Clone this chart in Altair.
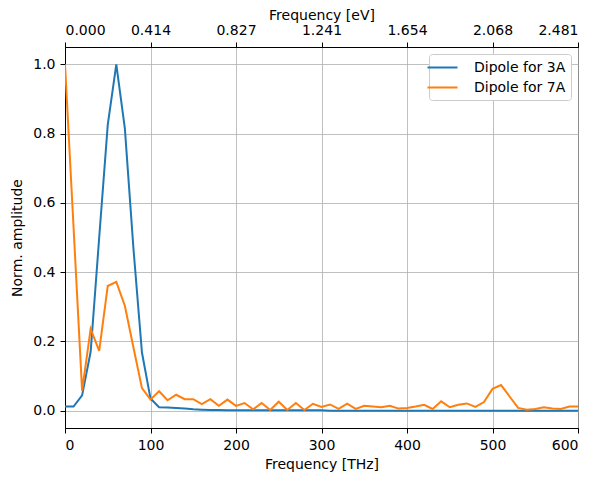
import altair as alt
import pandas as pd

thz = [0, 10, 20, 30, 40, 50, 60, 70, 80, 90,
       100, 110, 120, 130, 140, 150, 160, 170, 180, 190,
       200, 210, 220, 230, 240, 250, 260, 270, 280, 290,
       300, 310, 320, 330, 340, 350, 360, 370, 380, 390,
       400, 410, 420, 430, 440, 450, 460, 470, 480, 490,
       500, 510, 520, 530, 540, 550, 560, 570, 580, 590, 600]

dipole_3a = [0.012, 0.012, 0.044, 0.17, 0.5, 0.825, 1.0, 0.815, 0.47, 0.168,
             0.035, 0.01, 0.009, 0.008, 0.006, 0.004, 0.003, 0.002, 0.002, 0.001,
             0.001, 0.001, 0.001, 0.001, 0.001, 0.001, 0.001, 0.001, 0.001, 0.001,
             0.001, 0.0, 0.0, 0.0, 0.0, 0.0, 0.0, 0.0, 0.0, 0.0,
             0.0, 0.0, 0.0, 0.0, 0.0, 0.0, 0.0, 0.0, 0.0, 0.0,
             0.0, 0.0, 0.0, 0.0, 0.0, 0.0, 0.0, 0.0, 0.0, 0.0, 0.0]

dipole_7a = [1.0, 0.53, 0.058, 0.236, 0.173, 0.36, 0.372, 0.303, 0.183, 0.065,
             0.032, 0.056, 0.03, 0.046, 0.033, 0.033, 0.019, 0.033, 0.014, 0.032,
             0.014, 0.022, 0.004, 0.022, 0.002, 0.026, 0.002, 0.022, 0.002, 0.02,
             0.011, 0.018, 0.005, 0.02, 0.005, 0.014, 0.012, 0.01, 0.014, 0.006,
             0.008, 0.012, 0.017, 0.005, 0.027, 0.01, 0.017, 0.021, 0.011, 0.025,
             0.063, 0.074, 0.041, 0.008, 0.003, 0.005, 0.01, 0.006, 0.005, 0.012, 0.012]

series_names = ["Dipole for 3A", "Dipole for 7A"]
series_colors = ["#1f77b4", "#ff7f0e"]

x_ticks = [0, 100, 200, 300, 400, 500, 600]
y_ticks = [0.0, 0.2, 0.4, 0.6, 0.8, 1.0]

df = pd.DataFrame({
    "THz": thz + thz,
    "amp": dipole_3a + dipole_7a,
    "series": [series_names[0]] * len(thz) + [series_names[1]] * len(thz),
})

xscale = alt.Scale(domain=[0, 600], nice=False, zero=False)
yscale = alt.Scale(domain=[-0.05, 1.05], nice=False, zero=False)

lines = alt.Chart(df).mark_line(strokeWidth=2, clip=True).encode(
    x=alt.X("THz:Q", scale=xscale,
            axis=alt.Axis(title="Frequency [THz]", values=x_ticks, format="d", grid=True,
                          titlePadding=5)),
    y=alt.Y("amp:Q", scale=yscale,
            axis=alt.Axis(title="Norm. amplitude", values=y_ticks, format=".1f", grid=True,
                          titlePadding=8)),
    color=alt.Color("series:N",
                    scale=alt.Scale(domain=series_names, range=series_colors),
                    legend=alt.Legend(title=None)),
)

top = alt.Chart(df).mark_rule(opacity=0).encode(
    x=alt.X("THz:Q", scale=xscale,
            axis=alt.Axis(orient="top", title="Frequency [eV]", values=x_ticks,
                          labelExpr="format(datum.value * 0.0041357, '.3f')", grid=False,
                          titlePadding=1)),
)

chart = alt.layer(lines, top).resolve_scale(x="shared").resolve_axis(x="independent").properties(
    width=513, height=381,
    padding={"left": 57, "top": 39, "right": 10, "bottom": 50},
    autosize=alt.AutoSizeParams(type="none"),
).configure_view(
    stroke="black", strokeWidth=1
).configure_axis(
    labelFont="DejaVu Sans", titleFont="DejaVu Sans",
    labelFontSize=14, titleFontSize=14, titleFontWeight="normal",
    labelColor="black", titleColor="black",
    tickColor="black", domainColor="black", tickSize=5, labelPadding=5,
    gridColor="#b0b0b0", gridWidth=0.8,
).configure_legend(
    orient="top-right", offset=7, fillColor="white", strokeColor="#cccccc",
    cornerRadius=3, padding=5, labelFont="DejaVu Sans", labelFontSize=14,
    labelColor="black", symbolType="M-2,0L2,0", symbolStrokeWidth=2, symbolSize=225,
    rowPadding=4, labelOffset=23,
)

chart.save("out.html", embed_options={"renderer": "svg", "actions": False})
